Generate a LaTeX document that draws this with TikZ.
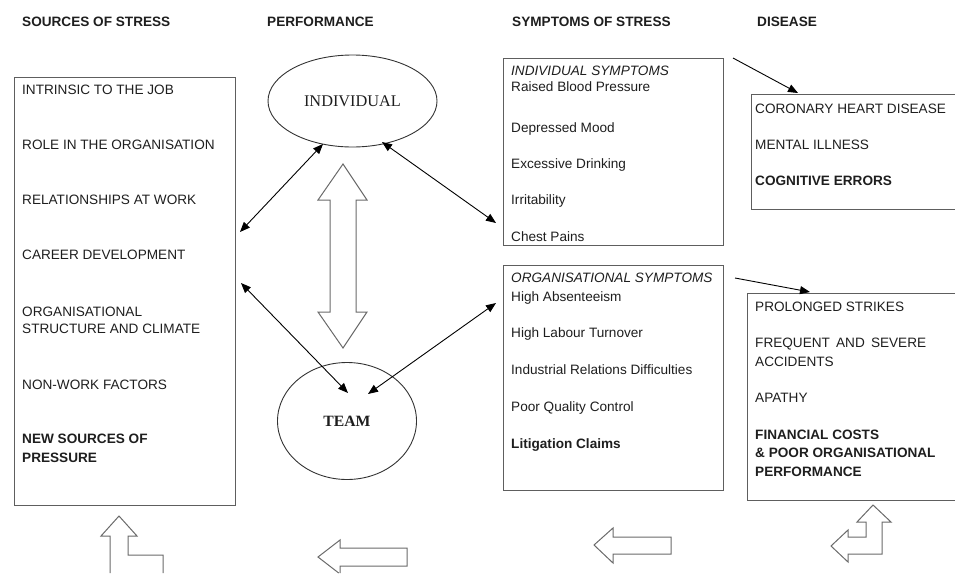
\documentclass[tikz,border=0pt]{standalone}
\usepackage{fontspec}
\setmainfont{Liberation Sans}
\newfontfamily\seriffont{Liberation Serif}
\usetikzlibrary{arrows.meta,shapes.geometric}
\definecolor{boxgray}{HTML}{5E5E5E}
\definecolor{blkgray}{HTML}{6A6A6A}
\definecolor{txt}{HTML}{1E1E1E}
\newcommand{\fsz}{\fontsize{13.6pt}{16pt}\selectfont}
\begin{document}
\begin{tikzpicture}[x=1pt,y=-1pt,
  box/.style={draw=boxgray, line width=1pt, inner sep=0pt, anchor=north west},
  lbl/.style={anchor=base west, inner sep=0pt, text=txt, font=\fsz},
  hdr/.style={anchor=base west, inner sep=0pt, text=txt, font=\fsz\bfseries},
  bld/.style={anchor=base west, inner sep=0pt, text=txt, font=\fsz\bfseries},
  itl/.style={anchor=base west, inner sep=0pt, text=txt, font=\fsz\itshape},
  oval/.style={draw=black!80, line width=0.9pt, ellipse, inner sep=0pt, text=txt},
  link/.style={line width=0.9pt, {Triangle[length=10pt,width=8pt]}-{Triangle[length=10pt,width=8pt]}},
  one/.style={line width=0.9pt, -{Triangle[length=10pt,width=8pt]}},
  blk/.style={draw=blkgray, line width=1pt, line join=miter}
]
\useasboundingbox (0,0) rectangle (955,573);

% headers
\node[hdr] (h1) at (22,26) {SOURCES OF STRESS};
\node[hdr] (h2) at (267,26) {PERFORMANCE};
\node[hdr] (h3) at (512,26) {SYMPTOMS OF STRESS};
\node[hdr] (h4) at (757,26) {DISEASE};

% sources box
\node[box, minimum width=221pt, minimum height=428pt] (src) at (14,77) {};
\node[lbl] (s1) at (22,94) {INTRINSIC TO THE JOB};
\node[lbl] (s2) at (22,149) {ROLE IN THE ORGANISATION};
\node[lbl] (s3) at (22,204) {RELATIONSHIPS AT WORK};
\node[lbl] (s4) at (22,259) {CAREER DEVELOPMENT};
\node[lbl] (s5a) at (22,316) {ORGANISATIONAL};
\node[lbl] (s5b) at (22,333) {STRUCTURE AND CLIMATE};
\node[lbl] (s6) at (22,389) {NON-WORK FACTORS};
\node[bld] (s7a) at (22,443) {NEW SOURCES OF};
\node[bld] (s7b) at (22,462) {PRESSURE};

% performance ellipses
\node[oval, minimum width=169pt, minimum height=92pt, font=\seriffont\fontsize{16.3pt}{18pt}\selectfont] (ind) at (352.5,101) {INDIVIDUAL};
\node[oval, minimum width=139pt, minimum height=117pt, font=\seriffont\bfseries\fontsize{15.7pt}{18pt}\selectfont] (team) at (347,421) {TEAM};

% vertical double block arrow
\draw[blk] (343,164) -- (367,200) -- (356,200) -- (356,312) -- (367,312) -- (343,348)
  -- (318,312) -- (330,312) -- (330,200) -- (318,200) -- cycle;

% symptoms boxes
\node[box, minimum width=220pt, minimum height=187pt] (indsym) at (503,58) {};
\node[itl] (i0) at (511,75) {INDIVIDUAL SYMPTOMS};
\node[lbl] (i1) at (511,91) {Raised Blood Pressure};
\node[lbl] (i2) at (511,132) {Depressed Mood};
\node[lbl] (i3) at (511,168) {Excessive Drinking};
\node[lbl] (i4) at (511,204) {Irritability};
\node[lbl] (i5) at (511,241) {Chest Pains};

\node[box, minimum width=220pt, minimum height=225pt] (orgsym) at (503,265) {};
\node[itl] (o0) at (511,282) {ORGANISATIONAL SYMPTOMS};
\node[lbl] (o1) at (511,301) {High Absenteeism};
\node[lbl] (o2) at (511,337) {High Labour Turnover};
\node[lbl] (o3) at (511,374) {Industrial Relations Difficulties};
\node[lbl] (o4) at (511,411) {Poor Quality Control};
\node[bld] (o5) at (511,448) {Litigation Claims};

% disease boxes (right side cut off)
\node[inner sep=0pt, minimum width=205pt, minimum height=115pt, anchor=north west] (dis1) at (751,94) {};
\draw[boxgray, line width=1pt] (dis1.north east) -- (dis1.north west) -- (dis1.south west) -- (dis1.south east);
\node[lbl] (d1) at (755,113) {CORONARY HEART DISEASE};
\node[lbl] (d2) at (755,149) {MENTAL ILLNESS};
\node[bld] (d3) at (755,185) {COGNITIVE ERRORS};

\node[inner sep=0pt, minimum width=209pt, minimum height=207pt, anchor=north west] (dis2) at (747,293) {};
\draw[boxgray, line width=1pt] (dis2.north east) -- (dis2.north west) -- (dis2.south west) -- (dis2.south east);
\node[lbl] (e1) at (755,311) {PROLONGED STRIKES};
\node[lbl] (e2) at (755,347) {\hbox to 171pt{FREQUENT\hfil AND\hfil SEVERE}};
\node[lbl] (e3) at (755,366) {ACCIDENTS};
\node[lbl] (e4) at (755,402) {APATHY};
\node[bld] (e5) at (755,439) {FINANCIAL COSTS};
\node[bld] (e6) at (755,457) {\& POOR ORGANISATIONAL};
\node[bld] (e7) at (755,476) {PERFORMANCE};

% connector end points
\coordinate (srcA) at (240,232);
\coordinate (srcB) at (241,283);
\coordinate (indL) at (323,144);
\coordinate (indR) at (382,142);
\coordinate (symA) at (496,223);
\coordinate (symB) at (496,303);
\coordinate (teamL) at (348,393);
\coordinate (teamR) at (368,394);
\coordinate (isOut) at (733,58);
\coordinate (d1In) at (798,93);
\coordinate (osOut) at (735,278);
\coordinate (d2In) at (810,292);

\draw[link] (srcA) -- (indL);
\draw[link] (indR) -- (symA);
\draw[link] (srcB) -- (teamL);
\draw[link] (teamR) -- (symB);
\draw[one] (isOut) -- (d1In);
\draw[one] (osOut) -- (d2In);

% bottom block arrows
\draw[blk] (110,573) -- (110,536) -- (101,536) -- (119,516) -- (137,536) -- (128,536)
  -- (128,555) -- (163,555) -- (163,573);
\draw[blk] (340,573) -- (340,566) -- (407,566) -- (407,548) -- (340,548) -- (340,540)
  -- (318,557) -- (338.7,573);
\draw[blk] (594,545) -- (613,528) -- (613,537) -- (671,537) -- (671,554) -- (613,554)
  -- (613,563) -- cycle;
\draw[blk] (831,546) -- (848,530) -- (848,537) -- (866,537) -- (866,522) -- (857,522)
  -- (873,505) -- (891,522) -- (882,522) -- (882,554) -- (848,554) -- (848,562) -- cycle;
\end{tikzpicture}
\end{document}
